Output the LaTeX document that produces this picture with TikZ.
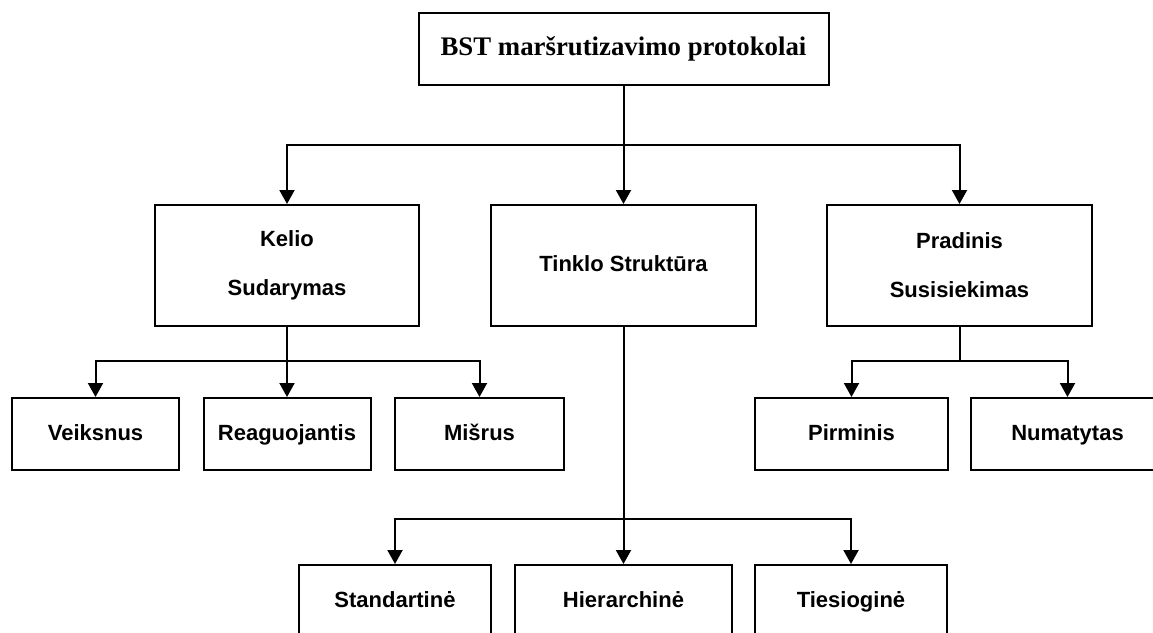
\documentclass[tikz,border=0pt]{standalone}
\usepackage{fontspec}
\setmainfont{Liberation Sans}
\newfontfamily\titlefont{Liberation Serif}
\usetikzlibrary{arrows.meta}
\begin{document}
\begin{tikzpicture}[x=1pt,y=-1pt,
  box/.style={draw, line width=2pt, inner sep=0pt, align=center,
    font=\fontsize{22}{26}\selectfont\bfseries},
  leaf/.style={box, text height=16pt, text depth=4pt},
  link/.style={line width=2pt},
  arr/.style={link, -{Triangle[length=14pt,width=15pt]}}]
% page frame
\fill[white] (0,0) rectangle (1153,632);
\useasboundingbox (0,0) rectangle (1153,632);

% root
\node[box, minimum width=410, minimum height=72,
  font=\fontsize{26.8}{31}\selectfont\titlefont\bfseries] (root) at (623.5,49)
  {BST maršrutizavimo protokolai};

% second level
\node[box, minimum width=264, minimum height=121] (kelio) at (287,265.5)
  {Kelio\\[23pt]Sudarymas};
\node[leaf, minimum width=265, minimum height=121] (tinklo) at (623.5,265.5)
  {Tinklo Struktūra};
\node[box, minimum width=265, minimum height=121] (prad) at (959.5,265.5)
  {Pradinis\\[23pt]Susisiekimas};

% third level
\node[leaf, minimum width=167, minimum height=72] (veik) at (95.5,434) {Veiksnus};
\node[leaf, minimum width=167, minimum height=72] (reag) at (287,434) {Reaguojantis};
\node[leaf, minimum width=169, minimum height=72] (misr) at (479.5,434) {Mišrus};
\node[leaf, minimum width=193, minimum height=72] (pirm) at (851.5,434) {Pirminis};
\node[leaf, minimum width=193, minimum height=72] (numa) at (1067.5,434) {Numatytas};

% fourth level
\node[leaf, minimum width=192, minimum height=72] (stand) at (395,601) {Standartinė};
\node[leaf, minimum width=217, minimum height=72] (hier) at (623.5,601) {Hierarchinė};
\node[leaf, minimum width=192, minimum height=72] (ties) at (851,601) {Tiesioginė};

% branch points
\coordinate (j0) at (623.5,145);
\coordinate (j1) at (287,361);
\coordinate (j2) at (959.5,361);
\coordinate (j3) at (623.5,519);

% connectors
\draw[link] (root.south) -- (j0);
\draw[arr] (j0) -| (kelio.north);
\draw[arr] (j0) -- (tinklo.north);
\draw[arr] (j0) -| (prad.north);

\draw[link] (kelio.south) -- (j1);
\draw[arr] (j1) -| (veik.north);
\draw[arr] (j1) -- (reag.north);
\draw[arr] (j1) -| (misr.north);

\draw[link] (prad.south) -- (j2);
\draw[arr] (j2) -| (pirm.north);
\draw[arr] (j2) -| (numa.north);

\draw[link] (tinklo.south) -- (j3);
\draw[arr] (j3) -| (stand.north);
\draw[arr] (j3) -- (hier.north);
\draw[arr] (j3) -| (ties.north);
\end{tikzpicture}
\end{document}
